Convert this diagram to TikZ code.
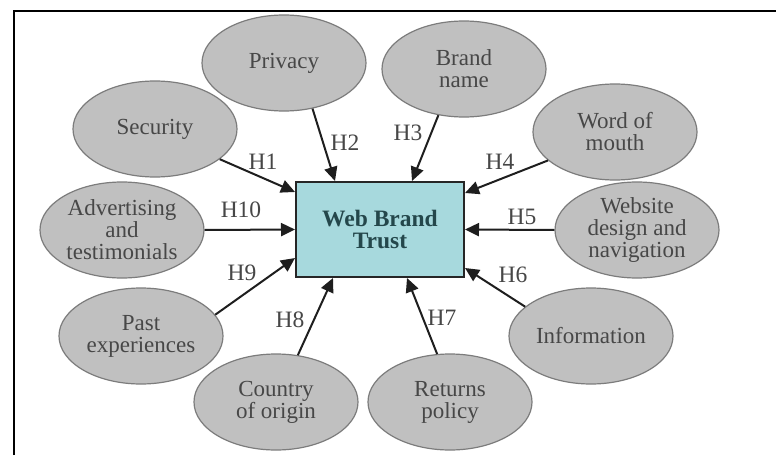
\documentclass[tikz,border=0pt]{standalone}
\usepackage{fontspec}
\setmainfont{Liberation Serif}
\usetikzlibrary{arrows.meta,shapes.geometric}
\definecolor{ellfill}{HTML}{C0C0C0}
\definecolor{elldraw}{HTML}{7C7C7C}
\definecolor{txtgray}{HTML}{474747}
\definecolor{boxfill}{HTML}{A7D9DD}
\definecolor{boxtxt}{HTML}{24474B}
\definecolor{arrowcol}{HTML}{1E1E1E}
\tikzset{
  factor/.style={ellipse,draw=elldraw,fill=ellfill,line width=1.2pt,
    minimum width=164pt,minimum height=96pt,inner sep=0pt,align=center,
    text=txtgray,font=\fontsize{23}{22}\selectfont},
  centre/.style={rectangle,draw=black!85,fill=boxfill,line width=2pt,
    minimum width=168pt,minimum height=95pt,inner sep=0pt,align=center,
    text=boxtxt,font=\fontsize{23.5}{22}\selectfont\bfseries},
  hyp/.style={draw=arrowcol,line width=2pt,-{Triangle[length=14pt,width=13pt]}},
  hlab/.style={text=txtgray,font=\fontsize{23.5}{22}\selectfont,inner sep=0pt}
}
\begin{document}
\begin{tikzpicture}[x=1pt,y=-1pt]
\useasboundingbox (0,0) rectangle (776,455);
\fill[white] (0,0) rectangle (776,455);
% frame
\draw[line width=2pt,black] (14,455) -- (14,11) -- (776,11);
% centre
\node[centre] (box) at (380,229.5) {Web Brand\\Trust};
% factors
\node[factor] (sec) at (155,129) {Security};
\node[factor] (pri) at (284,63) {Privacy};
\node[factor] (brn) at (464,69) {Brand\\name};
\node[factor] (wom) at (615,132) {Word of\\mouth};
\node[factor] (web) at (637,230) {Website\\design and\\navigation};
\node[factor] (inf) at (591,336) {Information};
\node[factor] (ret) at (450,402) {Returns\\policy};
\node[factor] (cou) at (276,402) {Country\\of origin};
\node[factor] (pas) at (141,336) {Past\\experiences};
\node[factor] (adv) at (122,230) {Advertising\\and\\testimonials};
% arrows
\draw[hyp] (sec.-25.5) -- ([yshift=-11pt]box.north west);
\draw[hyp] (pri.-58.3) -- ([xshift=-45pt]box.north);
\draw[hyp] (brn.-119.4) -- ([xshift=32pt]box.north);
\draw[hyp] (wom.-157.3) -- ([yshift=-12pt]box.north east);
\draw[hyp] (web.180) -- (box.east);
\draw[hyp] (inf.156.4) -- ([yshift=10pt]box.south east);
\draw[hyp] (ret.105.5) -- ([xshift=27pt]box.south);
\draw[hyp] (cou.65.9) -- ([xshift=-47pt]box.south);
\draw[hyp] (pas.16.3) -- ([yshift=20pt]box.south west);
\draw[hyp] (adv.0) -- (box.west);
% labels
\node[hlab] (h1) at (263,162) {H1};
\node[hlab] (h2) at (345,143) {H2};
\node[hlab] (h3) at (408,133) {H3};
\node[hlab] (h4) at (500,162) {H4};
\node[hlab] (h5) at (522,217) {H5};
\node[hlab] (h6) at (513,275) {H6};
\node[hlab] (h7) at (442,318) {H7};
\node[hlab] (h8) at (290,320) {H8};
\node[hlab] (h9) at (242,273) {H9};
\node[hlab] (h10) at (241,210) {H10};
\end{tikzpicture}
\end{document}
